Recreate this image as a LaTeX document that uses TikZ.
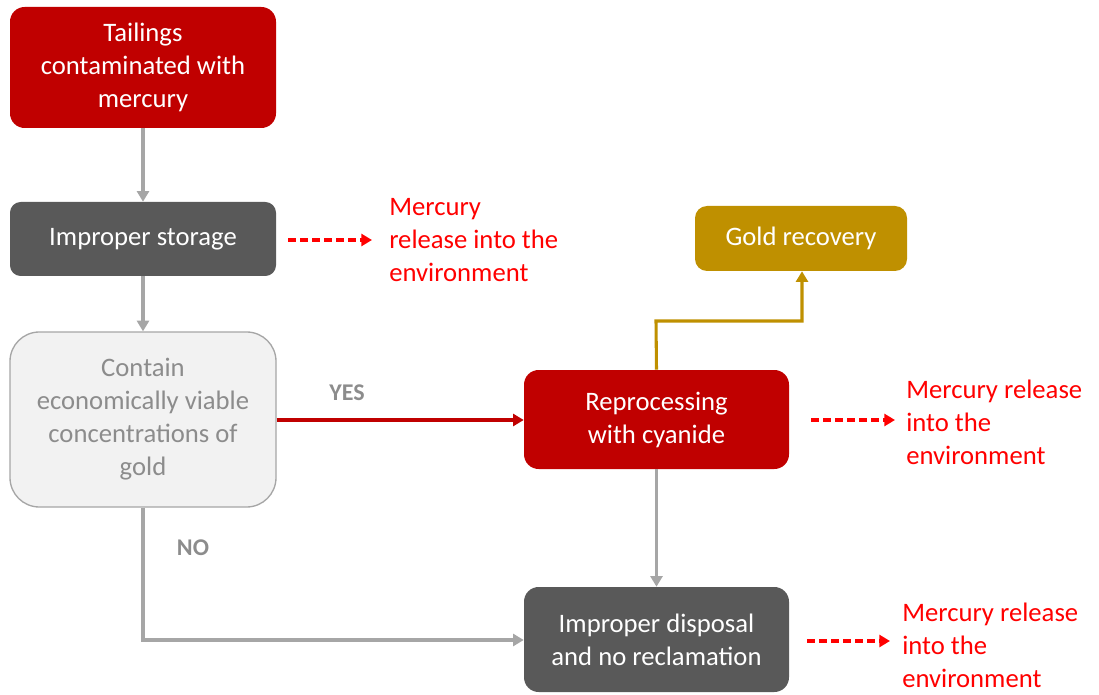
\documentclass[tikz,border=0pt]{standalone}
\usepackage{fontspec}
\setmainfont{Carlito}
\usetikzlibrary{arrows.meta,calc}
\definecolor{dred}{HTML}{C00000}
\definecolor{dgray}{HTML}{595959}
\definecolor{lgray}{HTML}{F2F2F2}
\definecolor{bgray}{HTML}{A6A6A6}
\definecolor{tgray}{HTML}{8C8C8C}
\definecolor{gold}{HTML}{BF9000}
\definecolor{bred}{HTML}{FF0000}
\tikzset{
  box/.style={rectangle, rounded corners=11pt, align=center, text=white,
    inner sep=0pt, font=\fontsize{20}{24.75}\selectfont},
  garrow/.style={draw=bgray, line width=2.3pt, -{Triangle[width=9pt,length=8pt]}},
  rarrow/.style={draw=dred, line width=2.3pt, -{Triangle[width=9pt,length=8pt]}},
  oarrow/.style={draw=gold, line width=2.3pt, -{Triangle[width=9pt,length=8pt]}},
  darrow/.style={draw=bred, line width=2.4pt, dash pattern=on 6pt off 3pt, -{Triangle[width=9pt,length=8pt]}},
  mlabel/.style={anchor=west, align=left, text=bred, inner sep=0pt, font=\fontsize{20}{24.75}\selectfont},
  yn/.style={text=tgray, font=\fontsize{18}{20}\selectfont\bfseries},
}
\begin{document}
\begin{tikzpicture}[x=0.75pt,y=-0.75pt]
\useasboundingbox (0,0) rectangle (1099,695);
% boxes
\node[box, fill=dred, minimum width=266*0.75pt, minimum height=121*0.75pt] (tail) at (143,67.5) {Tailings\\contaminated with\\mercury};
\node[box, fill=dgray, rounded corners=8pt, minimum width=266*0.75pt, minimum height=74*0.75pt] (store) at (143,239) {Improper storage};
\node[box, fill=lgray, draw=bgray, line width=1pt, rounded corners=22pt, text=tgray, minimum width=266*0.75pt, minimum height=175*0.75pt] (contain) at (143,419.5) {Contain\\economically viable\\concentrations of\\gold};
\node[box, fill=dred, minimum width=265*0.75pt, minimum height=99*0.75pt] (reproc) at (656.5,419.5) {Reprocessing\\with cyanide};
\node[box, fill=gold, rounded corners=9pt, minimum width=212*0.75pt, minimum height=65*0.75pt] (goldr) at (801,238.5) {Gold recovery};
\node[box, fill=dgray, minimum width=265*0.75pt, minimum height=105*0.75pt] (disp) at (656.5,639.5) {Improper disposal\\and no reclamation};
% red labels
\node[mlabel] (m1) at (389,240) {Mercury\\release into the\\environment};
\node[mlabel] (m2) at (906,422) {Mercury release\\into the\\environment};
\node[mlabel] (m3) at (902,645) {Mercury release\\into the\\environment};
% connectors
\draw[garrow] (tail.south) -- (store.north);
\draw[garrow] (store.south) -- (contain.north);
\draw[rarrow] (contain.east |- 0,420) -- (reproc.west |- 0,420);
\node[yn] (yes) at (347,393) {YES};
\draw[garrow] (contain.south) -- (143,640) -- (disp.west |- 0,640);
\node[yn] (no) at (193,548) {NO};
\draw[oarrow] (reproc.north) -- (656,321) -- (802,321) -- (goldr.south -| 802,0);
\draw[garrow] (reproc.south) -- (disp.north);
% dashed
\coordinate (d1) at (288,240);
\coordinate (d2) at (811,420);
\coordinate (d3) at (807,641);
\draw[darrow] (d1) -- (372,240);
\draw[darrow] (d2) -- (895,420);
\draw[darrow] (d3) -- (890,641);
\end{tikzpicture}
\end{document}
